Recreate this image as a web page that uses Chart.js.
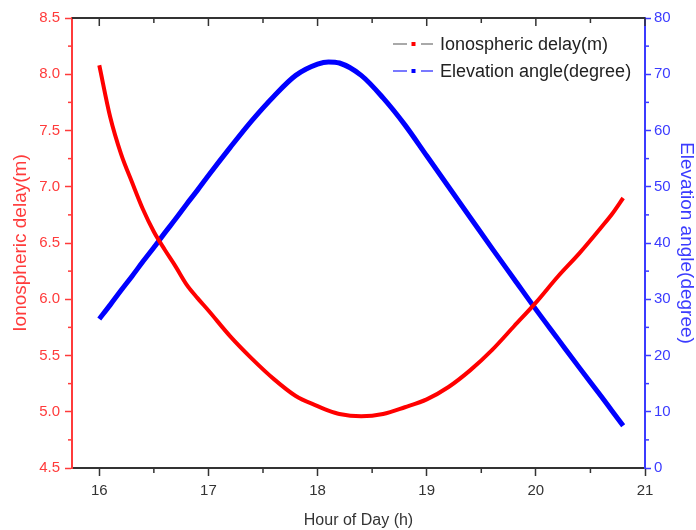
<!DOCTYPE html>
<html lang="en">
<head>
  <meta charset="UTF-8" />
  <title>Ionospheric delay vs elevation angle</title>
  <script src="https://cdn.jsdelivr.net/npm/chart.js"></script>
  <style>
    * { box-sizing: border-box; margin: 0; padding: 0; }
    body { background: #fff; }
    #wrap { width: 696px; height: 530px; }
  </style>
</head>
<body>
  <div id="wrap"><canvas id="chart" width="696" height="530"></canvas></div>

  <script>
    // hour of day for each sample
    const hours = [16.0, 16.1, 16.2, 16.3, 16.4, 16.5, 16.6, 16.7, 16.8, 16.9,
                   17.0, 17.2, 17.4, 17.6, 17.8, 18.0, 18.1, 18.2, 18.4, 18.6,
                   18.8, 19.0, 19.2, 19.4, 19.6, 19.8, 20.0, 20.2, 20.4, 20.6,
                   20.7, 20.8];
    // ionospheric delay in metres
    const ionoDelay = [8.08, 7.62, 7.29, 7.04, 6.80, 6.60, 6.44, 6.29, 6.13, 6.01,
                       5.90, 5.67, 5.47, 5.29, 5.14, 5.05, 5.01, 4.98, 4.96, 4.98,
                       5.04, 5.11, 5.22, 5.37, 5.55, 5.76, 5.97, 6.20, 6.41, 6.64,
                       6.76, 6.90];
    // satellite elevation angle in degrees
    const elevation = [26.5, 29.0, 31.6, 34.1, 36.7, 39.2, 41.8, 44.3, 46.9, 49.4,
                       52.0, 57.0, 61.8, 66.1, 69.8, 71.8, 72.2, 72.0, 69.8, 65.8,
                       61.0, 55.5, 50.0, 44.5, 39.0, 33.6, 28.2, 23.0, 17.8, 12.7,
                       10.1, 7.5];

    const seriesNames = ['Ionospheric delay(m)', 'Elevation angle(degree)'];
    const leftTicks = { min: 4.5, max: 8.5, step: 0.5 };
    const rightTicks = { min: 0, max: 80, step: 10 };
    const hourTicks = { min: 15.75, max: 21, step: 1 };

    const RED = '#ff0000';
    const BLUE = '#0000ff';
    const AXIS_RED = '#ff3b3b';
    const AXIS_BLUE = '#3b3bff';
    const DARK = '#333333';
    const FONT = "'Liberation Sans', Arial, sans-serif";

    const toPoints = (xs, ys) => xs.map((x, i) => ({ x: x, y: ys[i] }));

    // minor ticks, top frame and the inside legend
    const frameTicks = {
      id: 'frameTicks',
      afterDraw(chart) {
        const { ctx, chartArea: a, scales } = chart;
        ctx.save();

        function seg(x1, y1, x2, y2, color, w) {
          ctx.strokeStyle = color;
          ctx.lineWidth = w;
          ctx.beginPath();
          ctx.moveTo(x1, y1);
          ctx.lineTo(x2, y2);
          ctx.stroke();
        }
        function minors(scale) {
          const out = [];
          for (let i = 0; i < scale.ticks.length - 1; i++) {
            out.push(scale.getPixelForValue((scale.ticks[i].value + scale.ticks[i + 1].value) / 2));
          }
          return out;
        }

        // top border with inward ticks
        seg(a.left, a.top, a.right, a.top, DARK, 2);
        scales.x.ticks.forEach(t => {
          const px = scales.x.getPixelForValue(t.value);
          seg(px, a.top, px, a.top + 8, DARK, 1.5);
        });
        minors(scales.x).forEach(px => {
          seg(px, a.top, px, a.top + 5, DARK, 1.5);
          seg(px, a.bottom, px, a.bottom + 5, DARK, 1.5);
        });
        minors(scales.y).forEach(py => seg(a.left - 4, py, a.left, py, AXIS_RED, 1.5));
        minors(scales.y1).forEach(py => seg(a.right, py, a.right + 4, py, AXIS_BLUE, 1.5));

        // legend
        const samples = [
          { dash: '#8c8c8c', dot: RED },
          { dash: '#4d4dff', dot: BLUE }
        ];
        const lx = a.right - 252, ly = a.top + 26, rowH = 27;
        ctx.font = '18px ' + FONT;
        ctx.textBaseline = 'middle';
        chart.data.datasets.forEach((ds, i) => {
          const y = ly + i * rowH;
          const s = samples[i];
          seg(lx, y, lx + 14, y, s.dash, 1.5);
          seg(lx + 28, y, lx + 40, y, s.dash, 1.5);
          ctx.fillStyle = s.dot;
          ctx.fillRect(lx + 18.5, y - 2, 4, 4);
          ctx.fillStyle = '#222';
          ctx.fillText(ds.label, lx + 47, y + 1);
        });

        ctx.restore();
      }
    };

    new Chart(document.getElementById('chart'), {
      type: 'line',
      data: {
        datasets: [
          {
            label: seriesNames[0],
            data: toPoints(hours, ionoDelay),
            borderColor: RED,
            backgroundColor: RED,
            borderWidth: 4,
            pointRadius: 0,
            cubicInterpolationMode: 'monotone',
            yAxisID: 'y'
          },
          {
            label: seriesNames[1],
            data: toPoints(hours, elevation),
            borderColor: BLUE,
            backgroundColor: BLUE,
            borderWidth: 5,
            pointRadius: 0,
            cubicInterpolationMode: 'monotone',
            yAxisID: 'y1'
          }
        ]
      },
      options: {
        responsive: false,
        animation: false,
        layout: { padding: { top: 18, left: 0, right: 0, bottom: 0 } },
        plugins: {
          legend: { display: false },
          tooltip: { enabled: false }
        },
        scales: {
          x: {
            type: 'linear',
            min: hourTicks.min,
            max: hourTicks.max,
            afterFit: s => { s.height = 62; },
            border: { display: true, color: DARK, width: 2 },
            grid: { drawOnChartArea: false, drawTicks: true, tickLength: 8, tickColor: DARK, tickWidth: 1.5 },
            ticks: {
              stepSize: hourTicks.step,
              includeBounds: false,
              maxRotation: 0,
              padding: 6,
              color: DARK,
              font: { family: FONT, size: 15 }
            },
            title: {
              display: true,
              text: 'Hour of Day (h)',
              color: DARK,
              padding: { top: 4, bottom: 0 },
              font: { family: FONT, size: 16 }
            }
          },
          y: {
            position: 'left',
            min: leftTicks.min,
            max: leftTicks.max,
            afterFit: s => { s.width = 72; },
            border: { display: true, color: AXIS_RED, width: 2 },
            grid: { drawOnChartArea: false, drawTicks: true, tickLength: 7, tickColor: AXIS_RED, tickWidth: 1.5 },
            ticks: {
              stepSize: leftTicks.step,
              padding: 5,
              color: AXIS_RED,
              font: { family: FONT, size: 15 },
              callback: v => v.toFixed(1)
            },
            title: {
              display: true,
              text: seriesNames[0],
              color: AXIS_RED,
              padding: { top: 9, bottom: 0 },
              font: { family: FONT, size: 19 }
            }
          },
          y1: {
            position: 'right',
            min: rightTicks.min,
            max: rightTicks.max,
            afterFit: s => { s.width = 51; },
            border: { display: true, color: AXIS_BLUE, width: 2 },
            grid: { drawOnChartArea: false, drawTicks: true, tickLength: 6, tickColor: AXIS_BLUE, tickWidth: 1.5 },
            ticks: {
              stepSize: rightTicks.step,
              padding: 3,
              color: AXIS_BLUE,
              font: { family: FONT, size: 15 }
            },
            title: {
              display: true,
              text: seriesNames[1],
              color: AXIS_BLUE,
              padding: { top: -2, bottom: 0 },
              font: { family: FONT, size: 19 }
            }
          }
        }
      },
      plugins: [frameTicks]
    });
  </script>
</body>
</html>
